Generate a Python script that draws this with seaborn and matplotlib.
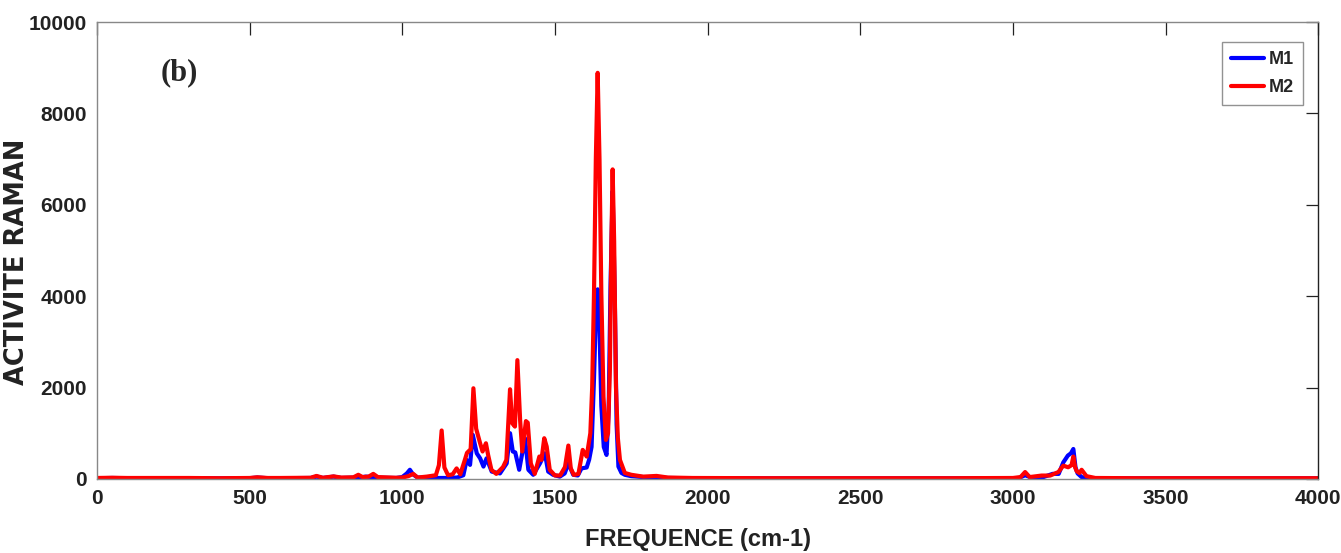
import numpy as np
import pandas as pd
import matplotlib
matplotlib.use("Agg")
import matplotlib.pyplot as plt
import seaborn as sns

sns.set_style("white")
plt.rcParams['font.family'] = ['Liberation Sans', 'DejaVu Sans']

# spectre M1
freq_m1 = [0, 50, 100, 200, 300, 400, 500, 525, 560, 600, 700, 720, 740, 775, 800,
           860, 880, 905, 930, 980, 1000, 1015, 1025, 1035, 1050, 1100, 1150, 1180,
           1200, 1211, 1222, 1231, 1244, 1255, 1266, 1276, 1293, 1320, 1342, 1353,
           1362, 1370, 1383, 1402, 1413, 1429, 1451, 1467, 1478, 1494, 1516, 1532,
           1544, 1560, 1575, 1587, 1604, 1612, 1620, 1628, 1634, 1640, 1646, 1652,
           1660, 1669, 1676, 1682, 1689, 1696, 1702, 1708, 1718, 1729, 1750, 1790,
           1833, 1870, 1950, 2200, 2500, 2800, 3000, 3020, 3040, 3060, 3100, 3130,
           3150, 3165, 3180, 3190, 3198, 3205, 3212, 3225, 3245, 3300, 3500, 3800, 4000]
act_m1 = [15, 20, 15, 15, 15, 12, 15, 30, 15, 15, 20, 50, 20, 50, 20,
          30, 50, 40, 25, 20, 40, 120, 200, 100, 30, 20, 20, 30,
          80, 415, 307, 963, 560, 450, 270, 450, 160, 120, 340, 1000,
          600, 580, 200, 890, 200, 90, 340, 560, 160, 90, 50, 120,
          340, 90, 75, 230, 250, 420, 700, 2200, 3600, 4150, 3300, 1600,
          700, 525, 1500, 4200, 6300, 4000, 1200, 270, 130, 90, 60, 40,
          30, 20, 15, 12, 12, 12, 15, 20, 80, 30, 40, 110,
          110, 360, 510, 560, 655, 255, 120, 40, 15, 12, 12, 12, 12]

# spectre M2
freq_m2 = [0, 50, 100, 200, 300, 400, 500, 525, 560, 600, 700, 719, 740, 775, 800,
           840, 856, 870, 890, 905, 920, 980, 1000, 1020, 1036, 1050, 1080, 1110,
           1120, 1129, 1138, 1150, 1165, 1178, 1190, 1205, 1212, 1224, 1233, 1242,
           1255, 1263, 1274, 1281, 1292, 1308, 1330, 1341, 1353, 1360, 1369, 1377,
           1386, 1393, 1405, 1411, 1421, 1434, 1449, 1456, 1465, 1473, 1483, 1500,
           1517, 1533, 1544, 1552, 1562, 1577, 1591, 1604, 1616, 1622, 1628, 1634,
           1640, 1646, 1652, 1659, 1667, 1674, 1680, 1685, 1689, 1694, 1700, 1706,
           1713, 1729, 1750, 1789, 1833, 1870, 1950, 2200, 2500, 2800, 3000, 3025,
           3040, 3055, 3094, 3122, 3149, 3165, 3181, 3192, 3198, 3204, 3209, 3218,
           3225, 3241, 3270, 3400, 3700, 4000]
act_m2 = [20, 25, 20, 20, 20, 15, 20, 35, 20, 20, 25, 65, 25, 55, 30,
          35, 90, 40, 50, 110, 40, 25, 30, 60, 110, 30, 50, 80,
          300, 1060, 250, 80, 100, 230, 100, 416, 570, 650, 1984, 1100,
          780, 600, 780, 530, 200, 110, 260, 416, 1962, 1220, 1145, 2600,
          1290, 600, 1265, 1230, 340, 110, 490, 415, 890, 708, 200, 75,
          75, 260, 730, 230, 87, 110, 635, 489, 1000, 2000, 4063, 7000,
          8890, 7000, 4063, 1800, 853, 1000, 2400, 5200, 6776, 5200, 2000, 900,
          416, 130, 90, 50, 65, 30, 20, 15, 15, 15, 20, 40,
          150, 40, 73, 73, 150, 290, 255, 300, 489, 250, 168, 130,
          200, 60, 20, 15, 15, 15]

df = pd.concat([
    pd.DataFrame({"freq": freq_m1, "act": act_m1, "serie": "M1"}),
    pd.DataFrame({"freq": freq_m2, "act": act_m2, "serie": "M2"}),
])

fig, ax = plt.subplots(figsize=(13.41, 5.53), dpi=100)
fig.subplots_adjust(left=0.0723, right=0.983, top=0.960, bottom=0.134)

sns.lineplot(data=df, x="freq", y="act", hue="serie", hue_order=["M1", "M2"],
             palette={"M1": "#0000FF", "M2": "#FF0000"}, estimator=None,
             sort=False, linewidth=3.0, ax=ax)

ax.set_xlim(0, 4000)
ax.set_ylim(0, 10000)
ax.set_xticks(np.arange(0, 4001, 500))
ax.set_yticks(np.arange(0, 10001, 2000))
ax.tick_params(direction="in", top=True, right=True, length=9, width=0.9,
               color="#222222", labelsize=15, pad=7)
for lab in ax.get_xticklabels() + ax.get_yticklabels():
    lab.set_fontweight("bold")
    lab.set_color("#222222")

for side in ["top", "left", "bottom"]:
    ax.spines[side].set_color("#888888")
ax.spines["right"].set_color("#222222")
for s in ax.spines.values():
    s.set_linewidth(1.0)

ax.set_xlabel("FREQUENCE (cm-1)", fontsize=17, fontweight="bold", color="#222222")
ax.xaxis.set_label_coords(0.492, -0.108)
ax.set_ylabel("ACTIVITE RAMAN", fontsize=18.5, fontweight="bold", color="#222222",
              family=["DejaVu Sans"])
ax.yaxis.set_label_coords(-0.0549, 0.476)

ax.text(0.052, 0.89, "(b)", transform=ax.transAxes, fontsize=22, fontweight="bold",
        family=["Liberation Serif", "DejaVu Serif"], va="center", ha="left")

leg = ax.legend(loc="upper right", bbox_to_anchor=(0.9877, 0.956), borderaxespad=0,
                fancybox=False, frameon=True, edgecolor="#777777", handlelength=1.8,
                handletextpad=0.3, borderpad=0.5, labelspacing=0.6,
                prop={"weight": "bold", "size": 13})
leg.get_frame().set_linewidth(1.0)

plt.savefig("out.png", dpi=100)
